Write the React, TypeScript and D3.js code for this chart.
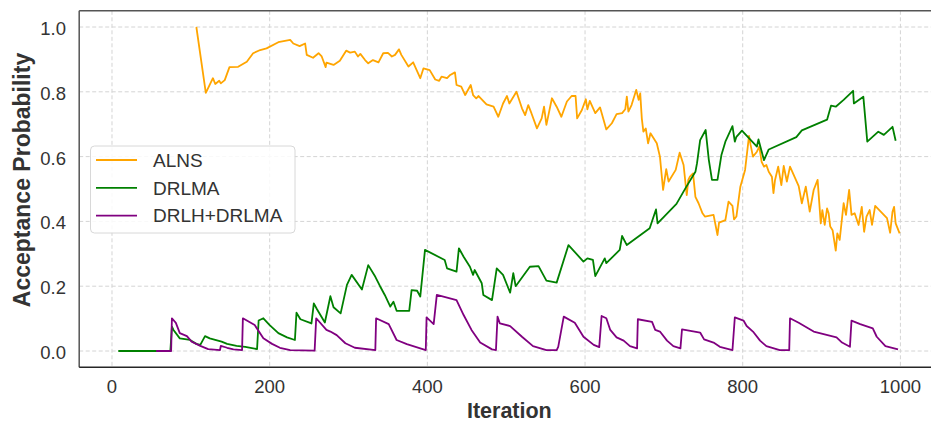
import React, { useEffect, useRef } from 'react';
import * as d3 from 'd3';

// [iteration, acceptance probability]
const alns: [number, number][] = [
  [107, 1.0], [119, 0.797], [128, 0.842], [131, 0.824], [136, 0.834], [138, 0.826], [143, 0.836],
  [149, 0.876], [160, 0.877], [171, 0.893], [179, 0.919], [188, 0.929], [196, 0.934], [211, 0.953],
  [226, 0.96], [230, 0.949], [238, 0.941], [245, 0.949], [247, 0.914], [255, 0.905], [262, 0.919],
  [266, 0.909], [271, 0.876], [272, 0.89], [281, 0.883], [289, 0.896], [297, 0.927], [302, 0.921],
  [308, 0.924], [312, 0.909], [315, 0.917], [321, 0.898], [325, 0.888], [331, 0.898], [338, 0.891],
  [344, 0.919], [350, 0.92], [355, 0.909], [359, 0.914], [364, 0.931], [367, 0.914], [376, 0.878],
  [382, 0.891], [391, 0.842], [395, 0.872], [403, 0.867], [410, 0.838], [415, 0.834], [418, 0.847],
  [425, 0.842], [429, 0.852], [435, 0.86], [437, 0.821], [443, 0.816], [448, 0.79], [455, 0.821],
  [458, 0.79], [462, 0.78], [465, 0.787], [475, 0.761], [484, 0.754], [490, 0.723], [496, 0.764],
  [501, 0.787], [504, 0.764], [513, 0.8], [520, 0.749], [524, 0.728], [528, 0.759], [532, 0.734],
  [539, 0.687], [545, 0.718], [548, 0.754], [551, 0.698], [558, 0.78], [564, 0.754], [570, 0.723],
  [577, 0.77], [583, 0.787], [588, 0.787], [590, 0.718], [596, 0.744], [601, 0.777], [603, 0.746],
  [606, 0.772], [613, 0.734], [619, 0.752], [627, 0.684], [634, 0.703], [640, 0.731], [647, 0.734],
  [651, 0.746], [653, 0.785], [655, 0.739], [659, 0.759], [665, 0.806], [668, 0.775], [670, 0.795],
  [672, 0.718], [674, 0.677], [677, 0.687], [680, 0.641], [683, 0.672], [691, 0.641], [695, 0.6],
  [699, 0.497], [703, 0.561], [706, 0.523], [715, 0.559], [720, 0.612], [725, 0.574], [729, 0.481],
  [731, 0.528], [733, 0.538], [737, 0.548], [740, 0.476], [744, 0.456], [749, 0.425], [752, 0.415],
  [763, 0.42], [768, 0.358], [770, 0.396], [778, 0.404], [782, 0.461], [787, 0.448], [789, 0.406],
  [792, 0.415], [797, 0.507], [803, 0.559], [808, 0.664], [810, 0.636], [813, 0.6], [818, 0.615],
  [821, 0.631], [824, 0.584], [827, 0.569], [830, 0.574], [833, 0.553], [837, 0.538], [839, 0.487],
  [841, 0.528], [845, 0.569], [849, 0.512], [852, 0.571], [856, 0.523], [860, 0.569], [871, 0.509],
  [875, 0.456], [880, 0.507], [885, 0.43], [890, 0.497], [895, 0.528], [899, 0.394], [901, 0.435],
  [904, 0.389], [907, 0.44], [909, 0.425], [911, 0.384], [914, 0.373], [918, 0.31], [920, 0.363],
  [923, 0.343], [928, 0.456], [931, 0.42], [935, 0.497], [938, 0.42], [942, 0.425], [947, 0.389],
  [951, 0.445], [954, 0.368], [957, 0.415], [961, 0.435], [964, 0.389], [968, 0.448], [983, 0.41],
  [987, 0.365], [990, 0.43], [992, 0.445], [994, 0.394], [999, 0.363],
];

const drlma: [number, number][] = [
  [8, 0], [74, 0], [76, 0.075], [78, 0.065], [86, 0.039], [99, 0.034], [107, 0.022], [112, 0.019],
  [118, 0.046], [124, 0.039], [139, 0.029], [146, 0.022], [158, 0.016], [169, 0.013], [184, 0.006],
  [186, 0.094], [192, 0.101], [200, 0.08], [211, 0.055], [222, 0.042], [232, 0.034], [234, 0.118],
  [239, 0.098], [253, 0.085], [256, 0.147], [260, 0.129], [270, 0.088], [277, 0.169], [281, 0.135],
  [290, 0.116], [298, 0.204], [304, 0.235], [317, 0.19], [325, 0.265], [334, 0.229], [340, 0.2],
  [346, 0.173], [353, 0.137], [357, 0.152], [361, 0.124], [377, 0.124], [380, 0.188], [387, 0.186],
  [391, 0.168], [397, 0.312], [422, 0.281], [425, 0.255], [437, 0.245], [440, 0.317], [446, 0.291],
  [454, 0.26], [458, 0.235], [460, 0.25], [469, 0.209], [471, 0.173], [482, 0.157], [488, 0.255],
  [496, 0.235], [505, 0.18], [509, 0.24], [512, 0.2], [530, 0.26], [541, 0.262], [551, 0.217],
  [564, 0.211], [579, 0.327], [598, 0.276], [603, 0.286], [610, 0.281], [613, 0.231], [625, 0.286],
  [627, 0.271], [644, 0.312], [647, 0.355], [653, 0.327], [682, 0.379], [690, 0.437], [692, 0.394],
  [716, 0.454], [728, 0.505], [740, 0.553], [742, 0.579], [746, 0.651], [753, 0.682], [757, 0.59],
  [761, 0.528], [768, 0.528], [773, 0.605], [778, 0.646], [787, 0.694], [790, 0.646], [792, 0.661],
  [799, 0.68], [818, 0.631], [820, 0.653], [827, 0.589], [833, 0.622], [868, 0.66], [875, 0.681],
  [907, 0.714], [912, 0.757], [918, 0.754], [928, 0.775], [940, 0.803], [941, 0.764], [953, 0.785],
  [958, 0.646], [972, 0.677], [979, 0.667], [990, 0.692], [994, 0.649],
];

const drlhDrlma: [number, number][] = [
  [56, 0], [75, 0], [76, 0.101], [81, 0.087], [86, 0.055], [95, 0.046], [101, 0.029], [112, 0.016],
  [122, 0.006], [137, 0.003], [138, 0.016], [146, 0.01], [154, 0.005], [165, 0.003], [166, 0.101],
  [181, 0.08], [192, 0.039], [203, 0.022], [213, 0.01], [226, 0.003], [257, 0.001], [259, 0.101],
  [272, 0.065], [277, 0.06], [285, 0.049], [296, 0.024], [308, 0.01], [334, 0.003], [335, 0.101],
  [351, 0.083], [361, 0.034], [374, 0.021], [398, 0.003], [399, 0.104], [408, 0.083], [412, 0.173],
  [437, 0.157], [446, 0.111], [456, 0.065], [467, 0.026], [482, 0.005], [487, 0.003], [489, 0.106],
  [492, 0.085], [505, 0.077], [520, 0.044], [534, 0.015], [551, 0.003], [564, 0.003], [566, 0.013],
  [573, 0.106], [587, 0.087], [598, 0.044], [611, 0.019], [618, 0.012], [621, 0.108], [627, 0.101],
  [632, 0.065], [640, 0.042], [649, 0.032], [657, 0.015], [666, 0.008], [667, 0.098], [685, 0.09],
  [689, 0.065], [695, 0.06], [704, 0.032], [712, 0.015], [721, 0.008], [723, 0.067], [746, 0.057],
  [751, 0.036], [763, 0.026], [771, 0.013], [787, 0.003], [790, 0.104], [801, 0.094], [805, 0.077],
  [813, 0.06], [822, 0.032], [830, 0.015], [847, 0.003], [859, 0.003], [860, 0.101], [871, 0.087],
  [890, 0.06], [919, 0.042], [926, 0.026], [936, 0.013], [938, 0.094], [949, 0.083], [965, 0.07],
  [970, 0.044], [981, 0.015], [997, 0.005],
];

const seriesNames = ['ALNS', 'DRLMA', 'DRLH+DRLMA'];
const seriesColors = ['orange', 'green', 'purple'];
const xTicks = [0, 200, 400, 600, 800, 1000];
const yTicks = [0.0, 0.2, 0.4, 0.6, 0.8, 1.0];

const WIDTH = 931;
const HEIGHT = 424;
const FONT = '"Liberation Sans", Arial, sans-serif';

const App: React.FC = () => {
  const svgRef = useRef<SVGSVGElement>(null);

  useEffect(() => {
    if (!svgRef.current) return;
    const svg = d3.select(svgRef.current);
    svg.selectAll('*').remove();

    // plot area (right side runs past the picture edge)
    const left = 79.2, right = 939.5, top = 10.8, bottom = 367.2;

    const x = d3.scaleLinear().domain([-41.6, 1049.6]).range([left, right]);
    const y = d3.scaleLinear().domain([-0.05, 1.05]).range([bottom, top]);

    svg.append('rect').attr('width', WIDTH).attr('height', HEIGHT).attr('fill', '#fff');

    // grid
    const grid = svg.append('g').attr('stroke', '#d4d4d4').attr('stroke-width', 1)
      .attr('stroke-dasharray', '4,2.5');
    grid.selectAll('.gx').data(xTicks).enter().append('line')
      .attr('x1', d => x(d)).attr('x2', d => x(d)).attr('y1', top).attr('y2', bottom);
    grid.selectAll('.gy').data(yTicks).enter().append('line')
      .attr('x1', left).attr('x2', right).attr('y1', d => y(d)).attr('y2', d => y(d));

    // lines
    const line = d3.line<[number, number]>().x(d => x(d[0])).y(d => y(d[1]));
    [alns, drlma, drlhDrlma].forEach((data, i) => {
      svg.append('path')
        .datum(data)
        .attr('d', line)
        .attr('fill', 'none')
        .attr('stroke', seriesColors[i])
        .attr('stroke-width', 1.8)
        .attr('stroke-linejoin', 'round');
    });

    // spines
    svg.append('line').attr('x1', left).attr('x2', WIDTH).attr('y1', top).attr('y2', top)
      .attr('stroke', '#555').attr('stroke-width', 1.5);
    svg.append('line').attr('x1', left).attr('x2', left).attr('y1', top).attr('y2', bottom)
      .attr('stroke', '#555').attr('stroke-width', 1.5);
    svg.append('line').attr('x1', left).attr('x2', WIDTH).attr('y1', bottom).attr('y2', bottom)
      .attr('stroke', '#262626').attr('stroke-width', 1.5);

    // tick labels
    svg.append('g').selectAll('text').data(xTicks).enter().append('text')
      .attr('x', d => x(d)).attr('y', 393)
      .attr('text-anchor', 'middle')
      .attr('font-family', FONT).attr('font-size', 18.5).attr('fill', '#333')
      .text(d => d3.format('d')(d));

    svg.append('g').selectAll('text').data(yTicks).enter().append('text')
      .attr('x', 66).attr('y', d => y(d) + 8)
      .attr('text-anchor', 'end')
      .attr('font-family', FONT).attr('font-size', 18.5).attr('fill', '#333')
      .text(d => d3.format('.1f')(d));

    // axis titles
    svg.append('text')
      .attr('x', (left + right) / 2).attr('y', 418)
      .attr('text-anchor', 'middle')
      .attr('font-family', FONT).attr('font-size', 21.5).attr('font-weight', 'bold').attr('fill', '#333')
      .text('Iteration');

    svg.append('text')
      .attr('transform', `translate(30,180) rotate(-90)`)
      .attr('text-anchor', 'middle')
      .attr('font-family', FONT).attr('font-size', 23).attr('font-weight', 'bold').attr('fill', '#333')
      .text('Acceptance Probability');

    // legend
    const legend = svg.append('g');
    legend.append('rect')
      .attr('x', 90.5).attr('y', 146).attr('width', 204.5).attr('height', 87).attr('rx', 4)
      .attr('fill', '#fff').attr('fill-opacity', 0.85)
      .attr('stroke', '#d8d8d8').attr('stroke-width', 1);
    seriesNames.forEach((name, i) => {
      const cy = 160 + i * 27.8;
      legend.append('line')
        .attr('x1', 96).attr('x2', 137).attr('y1', cy).attr('y2', cy)
        .attr('stroke', seriesColors[i]).attr('stroke-width', 1.8);
      legend.append('text')
        .attr('x', 153).attr('y', cy + 6.8)
        .attr('font-family', FONT).attr('font-size', 19).attr('fill', '#333')
        .text(name);
    });
  }, []);

  return (
    <div style={{ position: 'absolute', left: 0, top: 0 }}>
      <svg ref={svgRef} width={WIDTH} height={HEIGHT} style={{ display: 'block' }}></svg>
    </div>
  );
};

export default App;
